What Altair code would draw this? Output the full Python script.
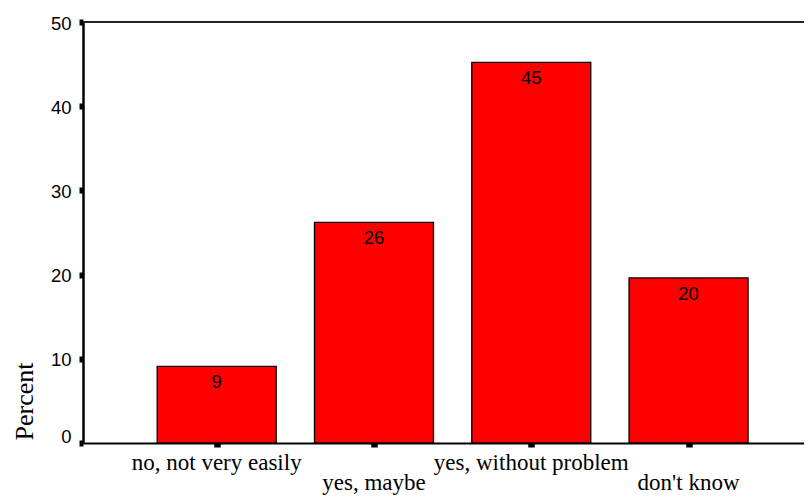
import altair as alt
import pandas as pd

categories = ["no, not very easily", "yes, maybe", "yes, without problem", "don't know"]
percents = [9.1, 26.2, 45.2, 19.6]
y_ticks = [0, 10, 20, 30, 40, 50]
x_ticks = [1, 2, 3, 4]

df = pd.DataFrame({
    "category": categories,
    "percent": percents,
    "idx": list(range(1, len(categories) + 1)),
})

W, H = 721, 421
xscale = alt.Scale(domain=[0.150, 4.734], nice=False, zero=False, padding=0)
yscale = alt.Scale(domain=[0, 50], nice=False, padding=0)

xaxis = alt.Axis(
    values=x_ticks, labels=False, title=None, grid=False,
    tickSize=4, tickWidth=6.5, tickColor="#000000",
    domainColor="#000000", domainWidth=2)
yaxis = alt.Axis(
    values=y_ticks, title="Percent", grid=False,
    tickSize=4, tickWidth=6, tickColor="#000000",
    domainColor="#000000", domainWidth=2.5,
    labelFont="Liberation Sans", labelFontSize=18.5, labelColor="#000000",
    labelPadding=8, labelFlush=False,
    labelOffset={"condition": {"test": "datum.value == 0", "value": -7}, "value": 1},
    titleFont="Liberation Serif", titleFontSize=26, titleFontWeight="normal",
    titleColor="#000000", titleAngle=270, titleAlign="left",
    titleBaseline="alphabetic", titleX=-51, titleY=418)

X = alt.X("idx:Q", scale=xscale, axis=xaxis)
Y = alt.Y("percent:Q", scale=yscale, axis=yaxis)

base = alt.Chart(df)

bars = base.mark_bar(size=119, color="#ff0000", stroke="#000000", strokeWidth=1.3).encode(
    x=X, y=Y,
)

labels = base.mark_text(font="Liberation Sans", fontSize=18.5, color="#000000",
                        baseline="alphabetic", dy=22).encode(
    x=X, y=Y,
    text=alt.Text("percent:Q", format=".0f"),
)

xlab1 = base.transform_filter("datum.idx % 2 == 1").mark_text(
    font="Liberation Serif", fontSize=23, color="#000000", baseline="alphabetic").encode(
    x=X,
    y=alt.value(448),
    text="category:N",
)

xlab2 = base.transform_filter("datum.idx % 2 == 0").mark_text(
    font="Liberation Serif", fontSize=23, color="#000000", baseline="alphabetic").encode(
    x=X,
    y=alt.value(468),
    text="category:N",
)

top_rule = alt.Chart(pd.DataFrame({"a": [0]})).mark_rule(color="#222222", strokeWidth=2).encode(
    x=alt.value(0), x2=alt.value(W), y=alt.value(0)
)

chart = alt.layer(bars, labels, xlab1, xlab2, top_rule).properties(
    width=W, height=H,
    padding={"left": 75, "top": 14, "right": 0, "bottom": 52},
    autosize=alt.AutoSizeParams(type="none"),
).configure_view(stroke=None)

chart.save("out.html", embed_options={"renderer": "svg", "actions": False})
